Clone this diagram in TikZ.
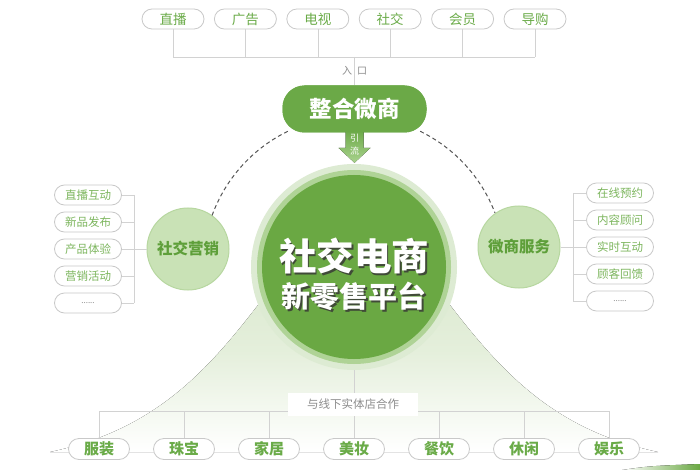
\documentclass[tikz,border=0pt]{standalone}
\usepackage{fontspec}
\setmainfont{Noto Sans CJK SC}
\usepackage{xcolor}
\usepackage{tikz}
\usetikzlibrary{positioning}
\definecolor{hubgreen}{HTML}{6BA947}
\definecolor{arrowlight}{HTML}{A9D28E}
\definecolor{coregreen}{HTML}{6AA843}
\definecolor{ringgreen}{HTML}{AFD396}
\definecolor{halogreen}{HTML}{DDEBD3}
\definecolor{bellgreen}{HTML}{D9E8CC}
\definecolor{bubblefill}{HTML}{C9E2B6}
\definecolor{bubbleline}{HTML}{B7D7A0}
\definecolor{bubbletext}{HTML}{5E9F3A}
\definecolor{leafgreen}{HTML}{6AAB48}
\definecolor{sideleaf}{HTML}{7DB65E}
\definecolor{pillgray}{HTML}{C9C9C9}
\definecolor{linegray}{HTML}{D2D2D2}
\definecolor{labelgray}{HTML}{8C8C8C}
\definecolor{dashgray}{HTML}{555555}
\definecolor{shadowgray}{HTML}{404A38}

\newcommand{\shadowed}[1]{\makebox[0pt][l]{\hspace{1.8pt}\raisebox{-1.8pt}{\textcolor{shadowgray}{#1}}}#1}

\begin{document}
\begin{tikzpicture}[x=1pt, y=-1pt, line width=0.6pt,
    pill/.style={rectangle, draw=pillgray, fill=white, line width=0.8pt,
        rounded corners=10pt, minimum width=62pt, minimum height=20pt,
        inner sep=0pt, text=leafgreen, font=\fontsize{13.5}{14}\selectfont},
    sidepill/.style={pill, node distance=27pt, minimum width=67pt,
        text=sideleaf, font=\fontsize{11.5}{12}\selectfont},
    botpill/.style={pill, node distance=85pt, minimum width=61pt,
        minimum height=21pt, rounded corners=10.5pt,
        font=\bfseries\fontsize{15}{16}\selectfont},
    bubble/.style={circle, draw=bubbleline, line width=1pt, fill=bubblefill,
        minimum size=82pt, inner sep=0pt, text=bubbletext,
        font=\bfseries\fontsize{15.5}{16}\selectfont},
    hub/.style={rectangle, rounded corners=22pt, fill=hubgreen,
        minimum width=144pt, minimum height=47pt, text=white,
        font=\bfseries\fontsize{22.5}{24}\selectfont},
    link/.style={draw=linegray, line width=0.6pt},
    dashline/.style={draw=dashgray, line width=1pt, dash pattern=on 4pt off 3pt},
    disc/.style={circle, inner sep=0pt}]

    \fill[white] (0,0) rectangle (700,470);
    \useasboundingbox (0,0) rectangle (700,470);

    % bell under the platform
    \fill[top color=bellgreen, bottom color=white, middle color=bellgreen!70]
        (50,452) .. controls (180,425) and (230,340) .. (300,250)
        -- (408,250) .. controls (478,340) and (528,425) .. (658,452) -- cycle;
    \fill[left color=white, right color=coregreen]
        (622,470) .. controls (650,466) .. (700,464) -- (700,470) -- cycle;

    % entry channels
    \node [pill, node distance=72.4pt] (t1) at (173,19) {直播};
    \node [pill, node distance=72.4pt, right of=t1] (t2) {广告};
    \node [pill, node distance=72.4pt, right of=t2] (t3) {电视};
    \node [pill, node distance=72.4pt, right of=t3] (t4) {社交};
    \node [pill, node distance=72.4pt, right of=t4] (t5) {会员};
    \node [pill, node distance=72.4pt, right of=t5] (t6) {导购};

    \node [hub] (hub) at (354.5,109) {};
    \coordinate (topbus) at (354.5,57);
    \foreach \i in {1,...,6}
        \draw[link] (t\i.south) -- (t\i.south |- topbus);
    \draw[link] (t1.south |- topbus) -- (t6.south |- topbus);
    \draw[link] (topbus) -- (hub.north);
    \node [text=labelgray, font=\fontsize{10}{11}\selectfont] (entry)
        at (354.5,71) {入\hspace{5pt}口};

    % arrow out of the hub
    \fill[top color=hubgreen, bottom color=arrowlight]
        ([xshift=-9pt,yshift=3pt]hub.south) -- ++(0,18) -- ++(-7,0)
        -- ++(16,15) -- ++(16,-15) -- ++(-7,0) -- ++(0,-18) -- cycle;
    \node [hub] (hubtop) at (hub) {整合微商};
    \node [text=white, align=center, inner sep=0pt,
        font=\fontsize{9}{13}\selectfont] (flow) at (354.5,145) {引\\流};

    % platform
    \node [disc, fill=halogreen, minimum size=206pt] (corehalo) at (354,267) {};
    \node [disc, fill=ringgreen, minimum size=194pt] (corering) at (corehalo) {};
    \node [disc, fill=coregreen, minimum size=184pt] (core) at (corehalo) {};
    \node [text=white, font=\bfseries\fontsize{37.5}{40}\selectfont]
        (ct1) at (354,257) {\shadowed{社交电商}};
    \node [text=white, font=\bfseries\fontsize{29}{30}\selectfont]
        (ct2) at (354,297) {\shadowed{新零售平台}};

    % side circles
    \node [bubble] (social) at (188,249) {社交营销};
    \node [bubble] (service) at (519,247) {微商服务};
    \draw[dashline] (core) ++(-116:151) arc (-116:-160:151);
    \draw[dashline] (core) ++(-64:151) arc (-64:-21:151);

    % social marketing
    \node [sidepill] (l1) at (88,195) {直播互动};
    \node [sidepill, below of=l1] (l2) {新品发布};
    \node [sidepill, below of=l2] (l3) {产品体验};
    \node [sidepill, below of=l3] (l4) {营销活动};
    \node [sidepill, below of=l4, text=labelgray,
        font=\fontsize{8}{9}\selectfont] (l5) {......};
    \coordinate (lbus) at (134,249);
    \foreach \i in {1,...,5}
        \draw[link] (l\i.east) -- (l\i.east -| lbus);
    \draw[link] (l1.east -| lbus) -- (l5.east -| lbus);
    \draw[link] (lbus) -- (social.west);

    % micro-business service
    \node [sidepill] (r1) at (620,193) {在线预约};
    \node [sidepill, below of=r1] (r2) {内容顾问};
    \node [sidepill, below of=r2] (r3) {实时互动};
    \node [sidepill, below of=r3] (r4) {顾客回馈};
    \node [sidepill, below of=r4, text=labelgray,
        font=\fontsize{8}{9}\selectfont] (r5) {......};
    \coordinate (rbus) at (573,247);
    \foreach \i in {1,...,5}
        \draw[link] (r\i.west) -- (r\i.west -| rbus);
    \draw[link] (r1.west -| rbus) -- (r5.west -| rbus);
    \draw[link] (service.east) -- (rbus);

    % offline stores
    \node [botpill] (b1) at (99,449) {服装};
    \node [botpill, right of=b1] (b2) {珠宝};
    \node [botpill, right of=b2] (b3) {家居};
    \node [botpill, right of=b3] (b4) {美妆};
    \node [botpill, right of=b4] (b5) {餐饮};
    \node [botpill, right of=b5] (b6) {休闲};
    \node [botpill, right of=b6] (b7) {娱乐};
    \coordinate (botbus) at (354,411);
    \draw[link] (corehalo.south) -- (botbus);
    \foreach \i in {1,...,7}
        \draw[link] (b\i.north) -- (b\i.north |- botbus);
    \draw[link] (b1.north |- botbus) -- (b7.north |- botbus);
    \node [fill=white, minimum width=130pt, minimum height=23pt, inner sep=0pt,
        text=labelgray, font=\fontsize{11.5}{12}\selectfont]
        (offline) at (353,404) {与线下实体店合作};
\end{tikzpicture}
\end{document}
